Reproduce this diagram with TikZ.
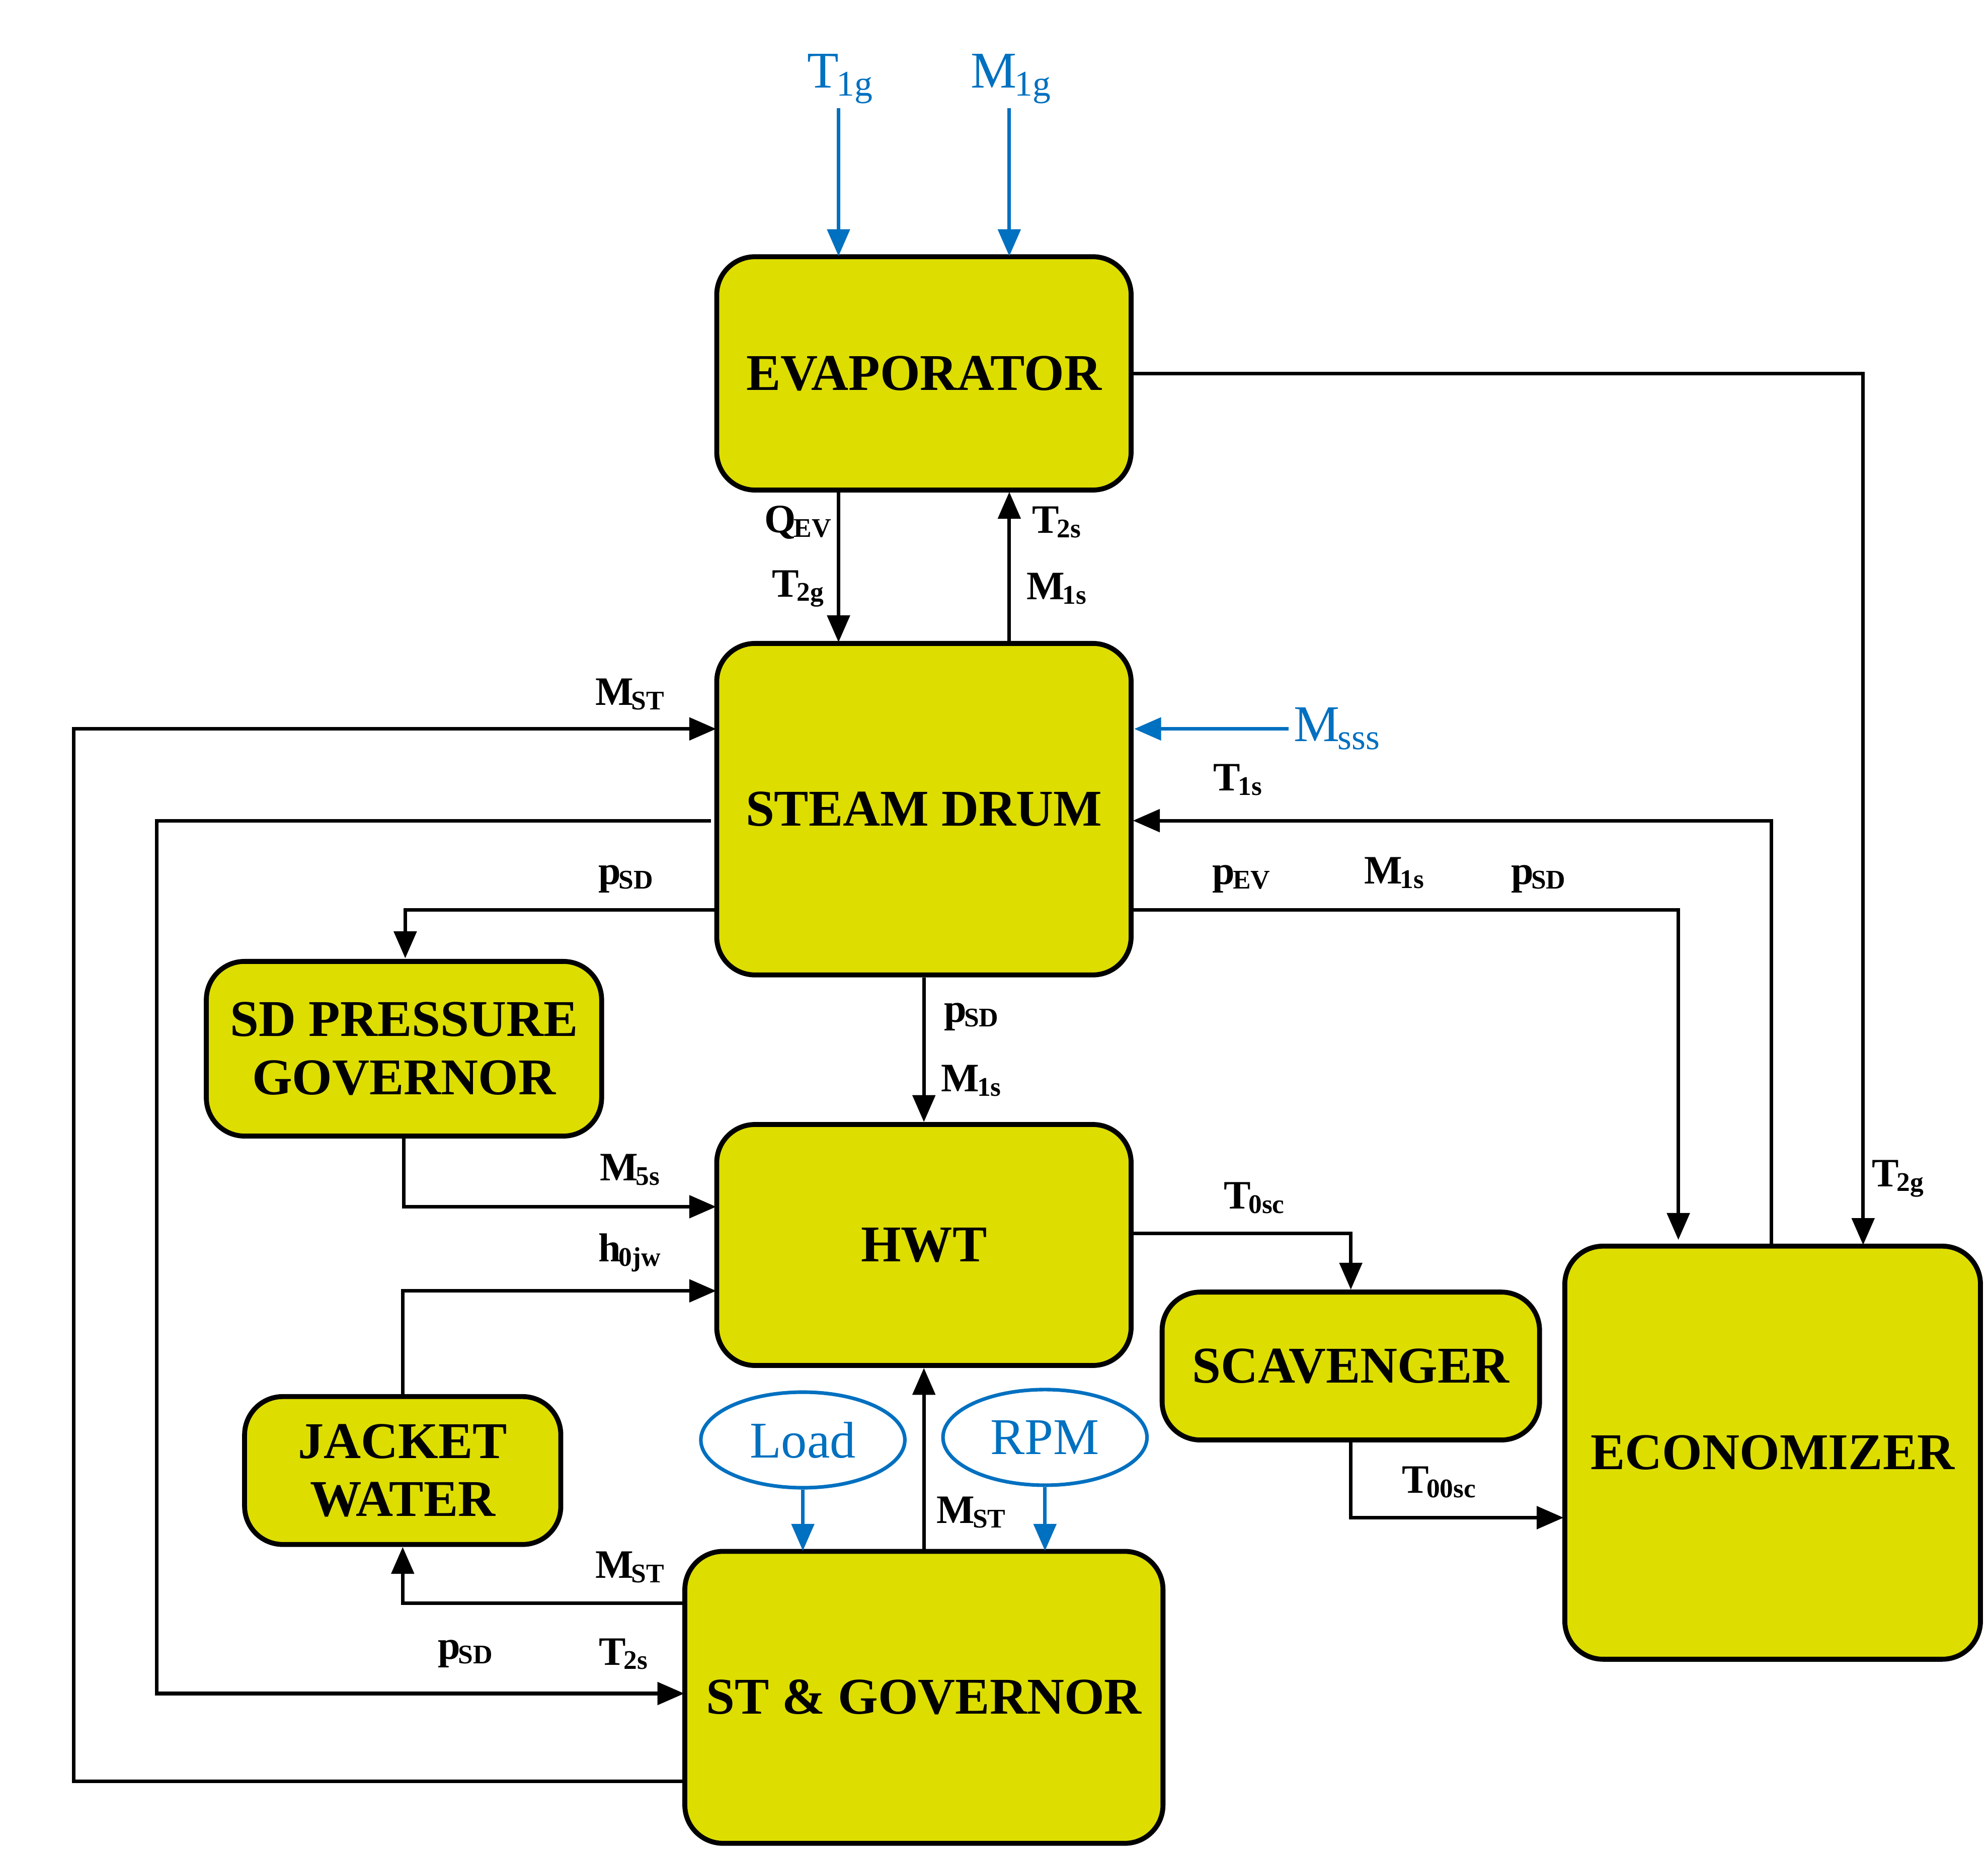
\documentclass[tikz,border=0pt]{standalone}
\usepackage{fontspec}
\setmainfont{Liberation Serif}
\usetikzlibrary{arrows.meta,shapes.geometric}
\definecolor{boxyellow}{RGB}{221,221,0}
\definecolor{inblue}{RGB}{0,112,192}
\newcommand{\sig}[2]{#1\textsubscript{\kern-0.5pt#2}}
\begin{document}
\begin{tikzpicture}[x=0.01cm,y=-0.01cm,
  block/.style={draw,line width=1.1pt,rounded corners=0.3cm,fill=boxyellow,align=center,
    font=\fontsize{11.5}{13}\selectfont\bfseries,inner sep=0pt},
  oval/.style={draw=inblue,ellipse,line width=0.8pt,text=inblue,minimum width=1.6cm,minimum height=0.75cm,
    inner sep=0pt,font=\fontsize{11.5}{13}\selectfont},
  flow/.style={line width=0.8pt,-{Triangle[length=6pt,width=5pt]}},
  inflow/.style={flow,draw=inblue},
  lab/.style={font=\fontsize{9}{11}\selectfont\bfseries,inner sep=1pt},
  inlab/.style={font=\fontsize{11.5}{13}\selectfont,text=inblue,inner sep=1pt}]
\useasboundingbox (0,0) rectangle (1560,1453);
% blocks
\node[block,minimum width=3.25cm,minimum height=1.83cm] (evap) at (725,293) {EVAPORATOR};
\node[block,minimum width=3.25cm,minimum height=2.6cm] (sd) at (725,635) {STEAM DRUM};
\node[block,minimum width=3.1cm,minimum height=1.37cm] (sdpg) at (317,823) {SD PRESSURE\\GOVERNOR};
\node[block,minimum width=3.25cm,minimum height=1.89cm] (hwt) at (725,977) {HWT};
\node[block,minimum width=2.48cm,minimum height=1.16cm] (jw) at (316,1154) {JACKET\\WATER};
\node[block,minimum width=2.96cm,minimum height=1.16cm] (scav) at (1060,1072) {SCAVENGER};
\node[block,minimum width=3.26cm,minimum height=3.24cm] (eco) at (1391,1140) {ECONOMIZER};
\node[block,minimum width=3.75cm,minimum height=2.29cm] (stg) at (725,1332) {ST \& GOVERNOR};
\node[oval] (load) at (630,1130) {Load};
\node[oval] (rpm) at (820,1128) {RPM};
% external inputs
\node[inlab] (t1g) at (660,62) {\sig{T}{1g}};
\node[inlab] (m1g) at (794,62) {\sig{M}{1g}};
\node[inlab] (msss) at (1050,572) {\sig{M}{sss}};
\draw[inflow] (658,85) -- (658,201);
\draw[inflow] (792,85) -- (792,201);
\draw[inflow] (msss.west) -- (890,572);
\draw[inflow] (load.south) -- (630,1217);
\draw[inflow] (rpm.south) -- (820,1217);
% connectors
\draw[flow] (658,385) -- (658,504);
\draw[flow] (792,505) -- (792,386);
\draw[flow] (888,293) -| (1462,977);
\draw[flow] (1390,978) |- (889,644);
\draw[flow] (888,714) -| (1317,973);
\draw[flow] (sd.south) -- (hwt.north);
\draw[flow] (563,714) -| (318,752);
\draw[flow] (558,644) -| (123,1329) -- (537,1329);
\draw[flow] (538,1398) -| (58,572) -- (562,572);
\draw[flow] (sdpg.south) |- (562,947);
\draw[flow] (jw.north) |- (562,1013);
\draw[flow] (538,1258) -| (jw.south);
\draw[flow] (stg.north) -- (hwt.south);
\draw[flow] (888,968) -| (scav.north);
\draw[flow] (scav.south) |- (1227,1191);
% labels
\node[lab] at (627,410) {\sig{Q}{EV}};
\node[lab] at (627,462) {\sig{T}{2g}};
\node[lab] at (830,410) {\sig{T}{2s}};
\node[lab] at (830,462) {\sig{M}{1s}};
\node[lab] at (1490,925) {\sig{T}{2g}};
\node[lab] at (972,612) {\sig{T}{1s}};
\node[lab] at (975,690) {\sig{p}{EV}};
\node[lab] at (1095,685) {\sig{M}{1s}};
\node[lab] at (1208,690) {\sig{p}{SD}};
\node[lab] at (763,798) {\sig{p}{SD}};
\node[lab] at (763,848) {\sig{M}{1s}};
\node[lab] at (492,690) {\sig{p}{SD}};
\node[lab] at (366,1298) {\sig{p}{SD}};
\node[lab] at (490,1298) {\sig{T}{2s}};
\node[lab] at (495,545) {\sig{M}{ST}};
\node[lab] at (495,918) {\sig{M}{5s}};
\node[lab] at (495,983) {\sig{h}{0jw}};
\node[lab] at (495,1230) {\sig{M}{ST}};
\node[lab] at (763,1187) {\sig{M}{ST}};
\node[lab] at (985,940) {\sig{T}{0sc}};
\node[lab] at (1130,1163) {\sig{T}{00sc}};
\end{tikzpicture}
\end{document}
